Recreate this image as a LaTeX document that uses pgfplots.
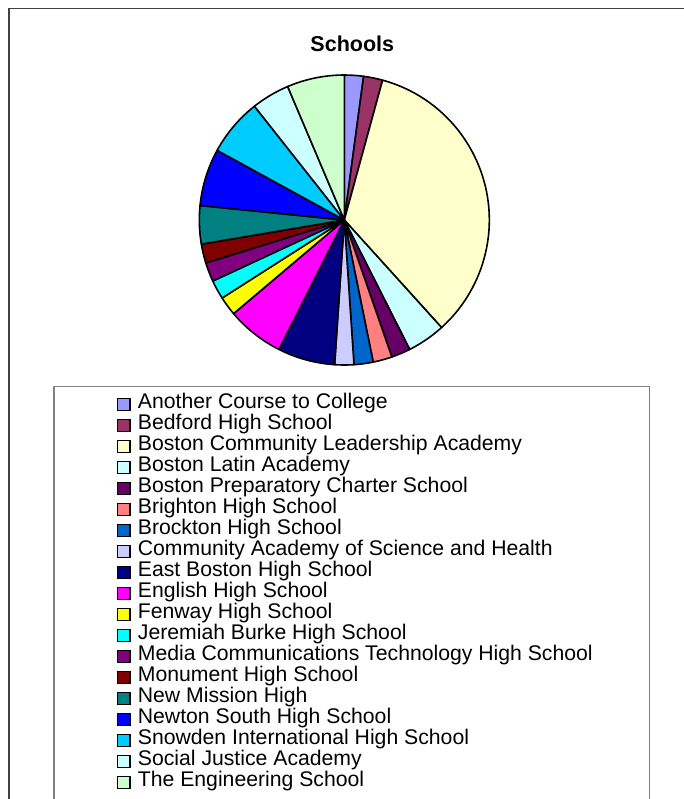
\documentclass[border=0pt]{standalone}
\usepackage{pgfplots}
\usepackage{pgfplotstable}
\pgfplotsset{compat=1.18}
\usepackage{fontspec}
\setmainfont{Liberation Sans}

% Excel 2003 palette
\definecolor{c01}{HTML}{9999FF}
\definecolor{c02}{HTML}{993366}
\definecolor{c03}{HTML}{FFFFCC}
\definecolor{c04}{HTML}{CCFFFF}
\definecolor{c05}{HTML}{660066}
\definecolor{c06}{HTML}{FF8080}
\definecolor{c07}{HTML}{0066CC}
\definecolor{c08}{HTML}{CCCCFF}
\definecolor{c09}{HTML}{000080}
\definecolor{c10}{HTML}{FF00FF}
\definecolor{c11}{HTML}{FFFF00}
\definecolor{c12}{HTML}{00FFFF}
\definecolor{c13}{HTML}{800080}
\definecolor{c14}{HTML}{800000}
\definecolor{c15}{HTML}{008080}
\definecolor{c16}{HTML}{0000FF}
\definecolor{c17}{HTML}{00CCFF}
\definecolor{c18}{HTML}{CCFFFF}
\definecolor{c19}{HTML}{CCFFCC}
\definecolor{framegray}{HTML}{404040}
\definecolor{boxgray}{HTML}{808080}

\pgfplotstableread[col sep=comma]{
name,value,colour
Another Course to College,1,c01
Bedford High School,1,c02
Boston Community Leadership Academy,16,c03
Boston Latin Academy,2,c04
Boston Preparatory Charter School,1,c05
Brighton High School,1,c06
Brockton High School,1,c07
Community Academy of Science and Health,1,c08
East Boston High School,3,c09
English High School,3,c10
Fenway High School,1,c11
Jeremiah Burke High School,1,c12
Media Communications Technology High School,1,c13
Monument High School,1,c14
New Mission High,2,c15
Newton South High School,3,c16
Snowden International High School,3,c17
Social Justice Academy,2,c18
The Engineering School,3,c19
}\schools

\begin{document}
\begin{tikzpicture}
\begin{scope}
\clip (0pt,0pt) rectangle (342pt,-399.5pt);
% chart area frame (cropped at right and bottom)
\draw[framegray, line width=0.75pt] (4.6pt,-420pt) -- (4.6pt,-4.25pt) -- (360pt,-4.25pt);
% legend frame
\draw[boxgray, line width=0.65pt] (27pt,-420pt) -- (27pt,-193.25pt) -- (324.85pt,-193.25pt) -- (324.85pt,-420pt);
\node[anchor=base, font=\fontsize{10.75}{12}\selectfont\bfseries] at (176.15pt,-25.85pt) {Schools};
\begin{axis}[
  at={(172.15pt,-110pt)}, anchor=origin,
  scale only axis, width=145pt, height=145pt,
  xmin=-1, xmax=1, ymin=-1, ymax=1,
  hide axis, clip=false,
  legend cell align=left,
  legend image code/.code={\draw[#1,draw=black,line width=0.7pt] (0pt,-3.1pt) rectangle (6.2pt,3.1pt);},
  % legend position is relative to the lower left corner of the pie axis
  legend style={at={(-41.3pt,-14.45pt)}, anchor=north west, draw=none, fill=none,
    inner sep=0pt, outer sep=0pt, row sep=0pt, column sep=3.7pt,
    font=\fontsize{10.6}{10.5}\selectfont,
    nodes={inner sep=0pt, text height=7.4pt, text depth=3.1pt}},
]
\pgfplotstablegetrowsof{\schools}
\pgfmathtruncatemacro\lastrow{\pgfplotsretval-1}
\def\total{0}
\pgfplotsforeachungrouped \i in {0,...,\lastrow}{
  \pgfplotstablegetelem{\i}{value}\of\schools
  \pgfmathsetmacro\newtotal{\total+\pgfplotsretval}
  \global\let\total\newtotal
}
\def\cum{0}
\pgfplotsforeachungrouped \i in {0,...,\lastrow}{
  \pgfplotstablegetelem{\i}{value}\of\schools \let\sliceval\pgfplotsretval
  \pgfplotstablegetelem{\i}{colour}\of\schools \let\slicecol\pgfplotsretval
  \pgfplotstablegetelem{\i}{name}\of\schools \let\slicename\pgfplotsretval
  \pgfmathsetmacro\angA{90-360*(\cum/\total)}
  \pgfmathsetmacro\cumnew{\cum+\sliceval}
  \pgfmathsetmacro\angB{90-360*(\cumnew/\total)}
  \global\let\cum\cumnew
  \edef\temp{%
    \noexpand\filldraw[fill=\slicecol, draw=black, line width=0.8pt, line join=round]
      (axis cs:0,0) -- (axis cs:{cos(\angA)},{sin(\angA)})
      arc[start angle=\angA, end angle=\angB, radius=72.5pt] -- cycle;
    \noexpand\addlegendimage{fill=\slicecol}
    \noexpand\addlegendentry{\slicename}}
  \temp
}
\end{axis}
\end{scope}
\pgfresetboundingbox
\useasboundingbox (0pt,0pt) rectangle (342pt,-399.5pt);
\end{tikzpicture}
\end{document}
